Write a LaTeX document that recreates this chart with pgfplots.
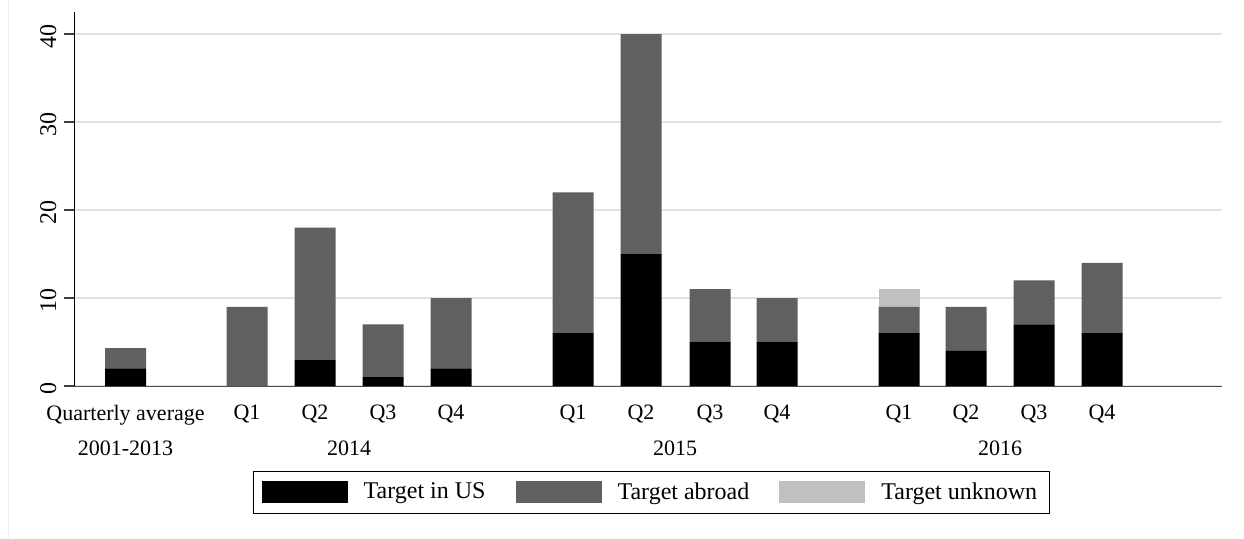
\documentclass[border=0pt]{standalone}
\usepackage{pgfplots}
\pgfplotsset{compat=1.18}
\usepackage{pgfplotstable}
\usepackage{fontspec}
\setmainfont{Liberation Serif}

\definecolor{usc}{HTML}{000000}
\definecolor{abroadc}{HTML}{606060}
\definecolor{unknownc}{HTML}{C0C0C0}
\definecolor{gridc}{HTML}{E2E2E2}

% x = position of the bar centre, in reference pixels
\pgfplotstableread{
x      us  abroad  unknown
125.5  2   2.3     0
247    0   9       0
315    3   15      0
383    1   6       0
451    2   8       0
573    6   16      0
641    15  25      0
710    5   6       0
777    5   5       0
899    6   3       2
966    4   5       0
1034   7   5       0
1102   6   8       0
}\attacks

\begin{document}
\fontsize{11}{13}\selectfont
\begin{tikzpicture}
\useasboundingbox (0,0) rectangle (622pt,-269pt);
\draw[color={rgb,255:red,232;green,240;blue,240}] (4pt,0) -- (4pt,-269pt);
\begin{axis}[
    at={(37pt,-193pt)}, anchor=south west,
    scale only axis,
    width=574pt, height=187pt,
    xmin=74, xmax=1222,
    ymin=0, ymax=42.5,
    ybar stacked,
    bar width=20.5pt,
    axis lines=left,
    axis line style={-},
    x axis line style={color=black!70},
    ytick={0,10,20,30,40},
    ymajorgrids=true,
    grid style={gridc, line width=0.8pt},
    tick align=outside,
    major tick length=5pt,
    y tick style={black!75, line width=0.6pt},
    yticklabel style={rotate=90, anchor=south, xshift=-1pt,
        font=\fontsize{12}{14}\selectfont},
    /pgf/number format/assume math mode=true,
    xtick={125.5,247,315,383,451,573,641,710,777,899,966,1034,1102},
    xticklabels={Quarterly average,Q1,Q2,Q3,Q4,Q1,Q2,Q3,Q4,Q1,Q2,Q3,Q4},
    x tick style={draw=none},
    xticklabel style={yshift=-0.5pt},
    extra x ticks={125.5,349,675,1000},
    extra x tick labels={2001-2013,2014,2015,2016},
    extra x tick style={tick style={draw=none}, tick label style={yshift=-18pt}, grid=none},
    legend style={at={(rel axis cs:0.156,-0.227)}, anchor=north west,
        legend columns=3, draw=black, line width=0.6pt,
        inner xsep=4pt, inner ysep=3.5pt,
        /tikz/every odd column/.append style={column sep=6pt},
        /tikz/every even column/.append style={column sep=13pt},
        font=\fontsize{12}{14}\selectfont},
]
\addplot[fill=usc, draw=none,
    legend image code/.code={\fill[usc] (0pt,-5.5pt) rectangle (43pt,5.5pt);}]
    table[x=x, y=us] {\attacks};
\addlegendentry{Target in US}
\addplot[fill=abroadc, draw=none,
    legend image code/.code={\fill[abroadc] (0pt,-5.5pt) rectangle (43pt,5.5pt);}]
    table[x=x, y=abroad] {\attacks};
\addlegendentry{Target abroad}
\addplot[fill=unknownc, draw=none,
    legend image code/.code={\fill[unknownc] (0pt,-5.5pt) rectangle (43pt,5.5pt);}]
    table[x=x, y=unknown] {\attacks};
\addlegendentry{Target unknown}
\end{axis}
\end{tikzpicture}
\end{document}
